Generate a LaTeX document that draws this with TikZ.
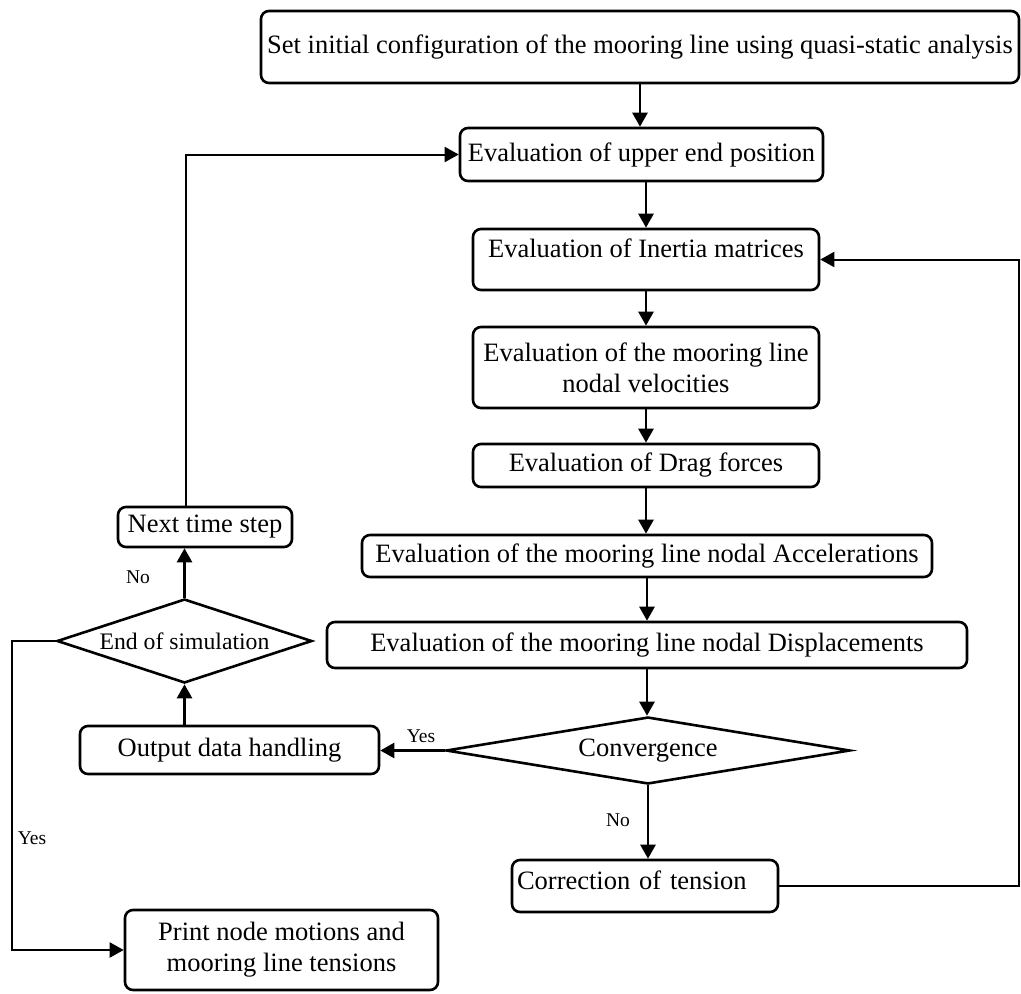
\documentclass[tikz,border=0pt]{standalone}
\usepackage{fontspec}
\setmainfont{Liberation Serif}
\usetikzlibrary{arrows.meta,shapes.geometric}
\begin{document}
\begin{tikzpicture}[x=1pt,y=-1pt,
  box/.style={draw,line width=2.6pt,rounded corners=8pt,inner sep=0pt,align=center,
    font=\fontsize{26.5pt}{31pt}\selectfont},
  dec/.style={draw,diamond,line width=2.6pt,inner sep=0pt,
    font=\fontsize{26.5pt}{31pt}\selectfont},
  arr/.style={line width=2.6pt,-{Triangle[length=14pt,width=15pt]}},
  thinarr/.style={line width=2pt,-{Triangle[length=14pt,width=15pt]}},
  lab/.style={inner sep=0pt,font=\fontsize{19.5pt}{22pt}\selectfont}]
\useasboundingbox (0,0) rectangle (1021,994);
\fill[white] (0,0) rectangle (1021,994);

\node[box,minimum width=758pt,minimum height=72pt] (b1) at (640,47)
  {Set initial configuration of the mooring line using quasi-static analysis};
\node[box,minimum width=363pt,minimum height=53pt] (b2) at (641.5,154.5)
  {Evaluation of upper end position};
\node[box,minimum width=346pt,minimum height=61pt,text height=19pt,text depth=22.6pt] (b3) at (646,259.5)
  {Evaluation of Inertia matrices};
\node[box,minimum width=346pt,minimum height=81pt] (b4) at (646,367.5)
  {Evaluation of the mooring line\\nodal velocities};
\node[box,minimum width=346pt,minimum height=43pt] (b5) at (646,465.5)
  {Evaluation of Drag forces};
\node[box,minimum width=570pt,minimum height=42pt] (b6) at (647,556)
  {Evaluation of the mooring line nodal Accelerations};
\node[box,minimum width=640pt,minimum height=46pt] (b7) at (647,645)
  {Evaluation of the mooring line nodal Displacements};
\node[dec,minimum width=404pt,minimum height=67pt,aspect=6] (conv) at (648,750.5)
  {Convergence};
\node[box,minimum width=299pt,minimum height=48pt] (out) at (229.5,750)
  {Output data handling};
\node[dec,minimum width=255pt,minimum height=84pt,aspect=3,
  font=\fontsize{23.7pt}{28pt}\selectfont] (end) at (184.5,641)
  {End of simulation};
\node[box,minimum width=174pt,minimum height=40pt] (next) at (205,527)
  {Next time step};
\node[box,align=left,text width=256pt,inner xsep=5pt,minimum height=52pt,text height=19pt,text depth=11.6pt] (corr) at (645,886)
  {Correction of tension};
\node[box,minimum width=313pt,minimum height=80pt] (pr) at (281.5,950)
  {Print node motions and\\mooring line tensions};

\coordinate (c1) at (186,0);
\coordinate (c2) at (1019,0);
\coordinate (c3) at (12,0);

\draw[arr] (b1.south) -- (b1.south |- b2.north);
\draw[arr] (b3.north |- b2.south) -- (b3.north);
\draw[arr] (b3.south) -- (b4.north);
\draw[arr] (b4.south) -- (b5.north);
\draw[arr] (b5.south) -- (b5.south |- b6.north);
\draw[arr] (b6.south) -- (b6.south |- b7.north);
\draw[arr] (b7.south) -- (b7.south |- conv.north);
\draw[arr] (conv.south) -- (conv.south |- corr.north);
\draw[arr] (conv.west) -- (conv.west -| out.east);
\draw[arr] (end.south |- out.north) -- (end.south);
\draw[arr] (end.north) -- (end.north |- next.south);
\draw[thinarr] (next.north -| c1) |- (b2.west);
\draw[thinarr] (corr.east) -- (corr.east -| c2) -- (c2 |- b3.east) -- (b3.east);
\draw[thinarr] (end.west) -- (end.west -| c3) -- (c3 |- pr.west) -- (pr.west);

\node[lab] (l1) at (138,577) {No};
\node[lab] (l2) at (421,736) {Yes};
\node[lab] (l3) at (618,820) {No};
\node[lab] (l4) at (32,838) {Yes};
\end{tikzpicture}
\end{document}
